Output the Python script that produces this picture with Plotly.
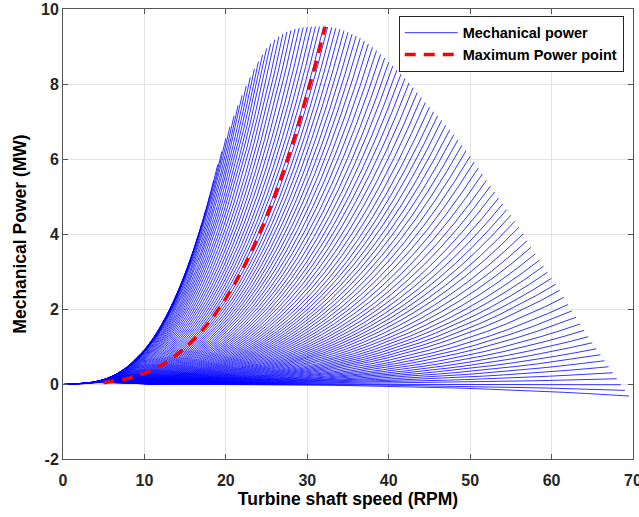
import numpy as np
import plotly.graph_objects as go

# each blue line = one tip speed ratio, swept over wind speed; it ends on the
# power hump of the highest wind speed.  end points
end_rpm = np.arange(0, 70, 0.5)
end_mw = [0, 0, 0, 0.001, 0.003, 0.006, 0.012, 0.02, 0.035, 0.06,
          0.09, 0.13, 0.18, 0.24, 0.31, 0.38, 0.47, 0.57, 0.68, 0.8,
          0.92, 1.06, 1.2, 1.37, 1.55, 1.74, 1.95, 2.18, 2.42, 2.68,
          2.95, 3.25, 3.55, 3.9, 4.25, 4.62, 5.0, 5.42, 5.85, 6.2,
          6.55, 6.86, 7.15, 7.43, 7.7, 7.95, 8.18, 8.4, 8.6, 8.78,
          8.95, 9.08, 9.18, 9.26, 9.33, 9.39, 9.43, 9.47, 9.49, 9.51,
          9.52, 9.53, 9.53, 9.53, 9.53, 9.52, 9.51, 9.49, 9.46, 9.42,
          9.38, 9.33, 9.28, 9.22, 9.15, 9.07, 8.98, 8.89, 8.79, 8.69,
          8.58, 8.48, 8.37, 8.26, 8.15, 8.03, 7.9, 7.77, 7.64, 7.51,
          7.38, 7.26, 7.15, 7.03, 6.9, 6.78, 6.65, 6.51, 6.37, 6.22,
          6.07, 5.92, 5.76, 5.6, 5.43, 5.28, 5.12, 4.96, 4.8, 4.65,
          4.5, 4.34, 4.18, 4.0, 3.82, 3.65, 3.47, 3.3, 3.14, 2.98,
          2.82, 2.66, 2.5, 2.31, 2.12, 1.95, 1.78, 1.6, 1.43, 1.26,
          1.1, 0.94, 0.78, 0.62, 0.46, 0.3, 0.14, -0.02, -0.17, -0.32]

wind_ms = [2.0, 2.5, 3.0, 3.5, 4.0, 4.5, 5.0, 5.5, 6.0, 6.5, 7.0, 7.5,
           8.0, 8.5, 9.0, 9.5, 10.0, 10.5, 11.0, 11.5, 12.0, 12.5, 13.0]

# maximum power point at the top wind speed
mpp_rpm_end = 32.2
mpp_mw_end = 9.53

y_ticks = [-2, 0, 2, 4, 6, 8, 10]
y_labels = ["-2", "0", "2", "4", "6", "8", "10"]

v = np.array(wind_ms) / max(wind_ms)

xs, ys = [], []
for r, p in zip(end_rpm, end_mw):
    xs += list(r * v) + [None]
    ys += list(p * v ** 3) + [None]

font = "Liberation Sans, Arial, sans-serif"
fig = go.Figure()
fig.add_trace(go.Scatter(x=xs, y=ys, mode="lines", name="Mechanical power",
                         line=dict(color="#0000ff", width=0.8)))
fig.add_trace(go.Scatter(x=mpp_rpm_end * v, y=mpp_mw_end * v ** 3, mode="lines",
                         name="Maximum Power point",
                         line=dict(color="#ff0000", width=3.5, dash="11px,8px")))

ax = dict(showgrid=True, gridcolor="#e3e3e3", gridwidth=1, zeroline=False,
          showline=True, linecolor="#555555", linewidth=1, mirror="ticks",
          ticks="inside", ticklen=5, tickcolor="#555555", automargin=False,
          ticklabeloverflow="allow",
          tickfont=dict(family=font, size=16, color="#262626", weight="bold"))
fig.update_xaxes(ax, range=[0, 70], dtick=10, ticklabelstandoff=7,
                 title=dict(text="Turbine shaft speed (RPM)", standoff=2,
                            font=dict(family=font, size=17.5, color="#000000", weight="bold")))
fig.update_yaxes(ax, range=[-2, 10], tickvals=y_ticks, ticktext=y_labels,
                 title=dict(text="Mechanical Power (MW)", standoff=9,
                            font=dict(family=font, size=17.5, color="#000000", weight="bold")))
fig.update_layout(width=639, height=517, margin=dict(l=63, r=6, t=9, b=58),
                  paper_bgcolor="white", plot_bgcolor="white",
                  legend=dict(x=0.589, y=0.985, xanchor="left", yanchor="top",
                              bgcolor="white", bordercolor="#262626", borderwidth=1,
                              itemwidth=53, tracegroupgap=0,
                              font=dict(family=font, size=14.5, color="#000000", weight="bold")))
# drop the default 8px body margin so the figure fills the window
fig.write_html("out.html", config={"displayModeBar": False},
               post_script="document.body.style.margin='0px';")
